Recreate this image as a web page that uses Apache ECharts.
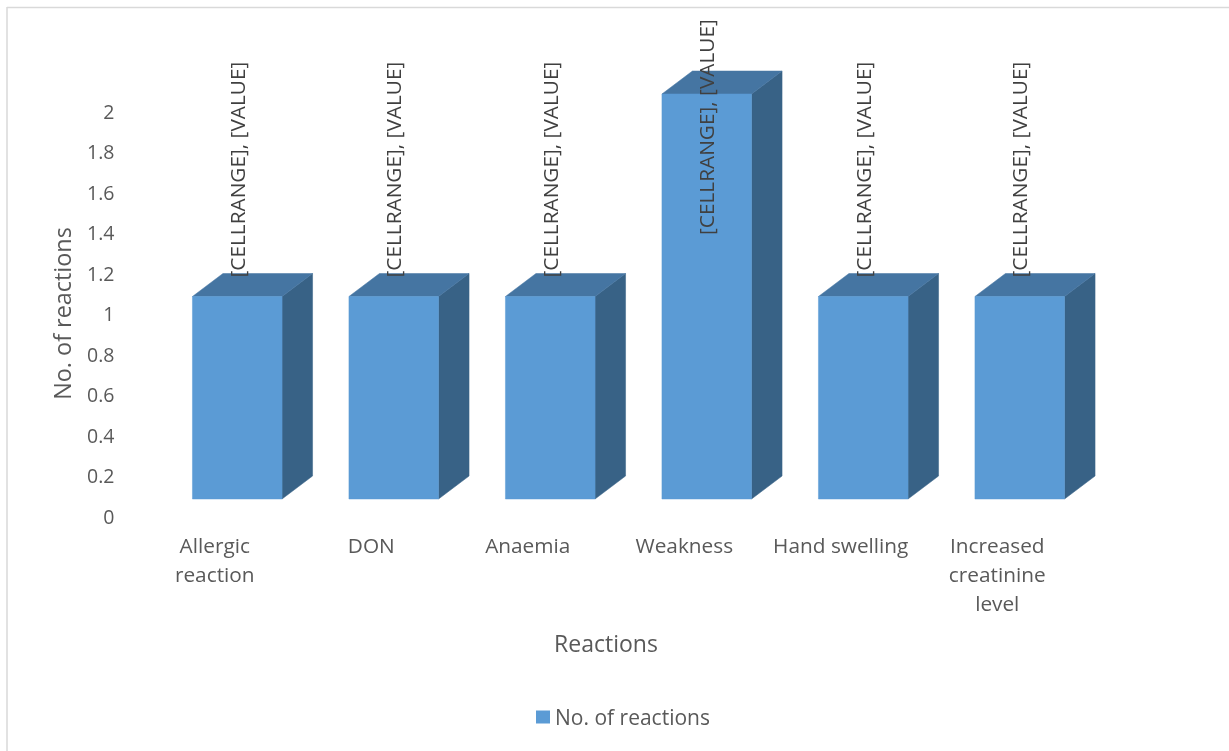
<!DOCTYPE html>
<html>
<head>
<meta charset="utf-8">
<title>No. of reactions</title>
<script src="https://cdn.jsdelivr.net/npm/echarts@6/dist/echarts.min.js"></script>
<style>
  html, body { margin: 0; padding: 0; background: #fff; }
  #chart { width: 1229px; height: 751px; }
</style>
</head>
<body>
<div id="chart"></div>
<script>
const categories = ['Allergic\nreaction', 'DON', 'Anaemia', 'Weakness', 'Hand swelling', 'Increased\ncreatinine\nlevel'];
const reactionCounts = [1, 1, 1, 2, 1, 1];
const seriesName = 'No. of reactions';
const labelText = '[CELLRANGE], [VALUE]';

const FONT = '"Open Sans", "Noto Sans", sans-serif';

// Box geometry for the extruded columns, in pixels
const FRONT_WIDTH = 89.6;
const FRONT_SHIFT_X = 22.5;
const FLOOR_LIFT = 17;
const DEPTH_X = 30.5;
const DEPTH_Y = 23;

// Rotated data labels sit above the box but stay inside the chart frame
const LABEL_LENGTH = 217;
const LABEL_GAP = 19;
const LABEL_MIN_TOP = 18;

function renderBox(params, api) {
  const base = api.coord([api.value(0), 0]);
  const top = api.coord([api.value(0), api.value(1)]);
  const x0 = base[0] + FRONT_SHIFT_X - FRONT_WIDTH / 2;
  const x1 = x0 + FRONT_WIDTH;
  const yB = base[1] - FLOOR_LIFT;
  const yT = top[1] - FLOOR_LIFT;
  const labelBottom = Math.max(yT - LABEL_GAP, LABEL_MIN_TOP + LABEL_LENGTH);
  const poly = (points, fill) => ({
    type: 'polygon',
    shape: { points },
    style: { fill, stroke: fill, lineWidth: 0.5 }
  });
  return {
    type: 'group',
    children: [
      poly([[x1, yB], [x1 + DEPTH_X, yB - DEPTH_Y], [x1 + DEPTH_X, yT - DEPTH_Y], [x1, yT]], '#386286'),
      poly([[x0, yT], [x1, yT], [x1 + DEPTH_X, yT - DEPTH_Y], [x0 + DEPTH_X, yT - DEPTH_Y]], '#4575A2'),
      poly([[x0, yB], [x1, yB], [x1, yT], [x0, yT]], '#5B9BD5'),
      {
        type: 'text',
        x: x0 + FRONT_WIDTH / 2 + 1.5,
        y: labelBottom,
        rotation: Math.PI / 2,
        z2: 10,
        style: {
          text: labelText,
          font: '400 20.8px ' + FONT,
          fill: '#404040',
          align: 'left',
          verticalAlign: 'middle'
        }
      }
    ]
  };
}

const chart = echarts.init(document.getElementById('chart'));
chart.setOption({
  animation: false,
  backgroundColor: '#ffffff',
  textStyle: { fontFamily: FONT },
  graphic: [
    { type: 'line', silent: true, shape: { x1: 7, y1: 7.5, x2: 1229, y2: 7.5 }, style: { stroke: '#D9D9D9', lineWidth: 1.5 } },
    { type: 'line', silent: true, shape: { x1: 7, y1: 7, x2: 7, y2: 751 }, style: { stroke: '#D9D9D9', lineWidth: 1.5 } }
  ],
  legend: {
    data: [seriesName],
    left: 536,
    top: 709,
    padding: 0,
    itemWidth: 14,
    itemHeight: 13,
    itemGap: 6,
    icon: 'rect',
    formatter: name => '{a|' + name + '}',
    textStyle: {
      rich: { a: { fontSize: 21, color: '#595959', fontFamily: FONT, padding: [5, 0, 0, 0] } }
    }
  },
  grid: { left: 136.5, width: 939, top: 111, height: 405 },
  xAxis: {
    type: 'category',
    data: categories,
    axisLine: { show: false },
    axisTick: { show: false },
    axisLabel: { color: '#595959', fontSize: 20.8, lineHeight: 29, margin: 17, interval: 0, fontFamily: FONT },
    name: 'Reactions',
    nameLocation: 'middle',
    nameGap: 118,
    nameTextStyle: { color: '#595959', fontSize: 23, fontFamily: FONT }
  },
  yAxis: {
    type: 'value',
    min: 0,
    max: 2,
    interval: 0.2,
    axisLine: { show: false },
    axisTick: { show: false },
    splitLine: { show: false },
    axisLabel: {
      margin: 22,
      formatter: '{t|{value}}',
      rich: { t: { color: '#595959', fontSize: 19.5, fontFamily: FONT, padding: [4, 0, 0, 0] } }
    },
    name: seriesName,
    nameLocation: 'middle',
    nameGap: 53,
    nameRotate: 90,
    nameTextStyle: { color: '#595959', fontSize: 23.4, fontFamily: FONT }
  },
  series: [{
    type: 'custom',
    name: seriesName,
    coordinateSystem: 'cartesian2d',
    clip: false,
    renderItem: renderBox,
    itemStyle: { color: '#5B9BD5' },
    encode: { x: 0, y: 1 },
    data: reactionCounts.map((v, i) => [i, v])
  }]
});
</script>
</body>
</html>
